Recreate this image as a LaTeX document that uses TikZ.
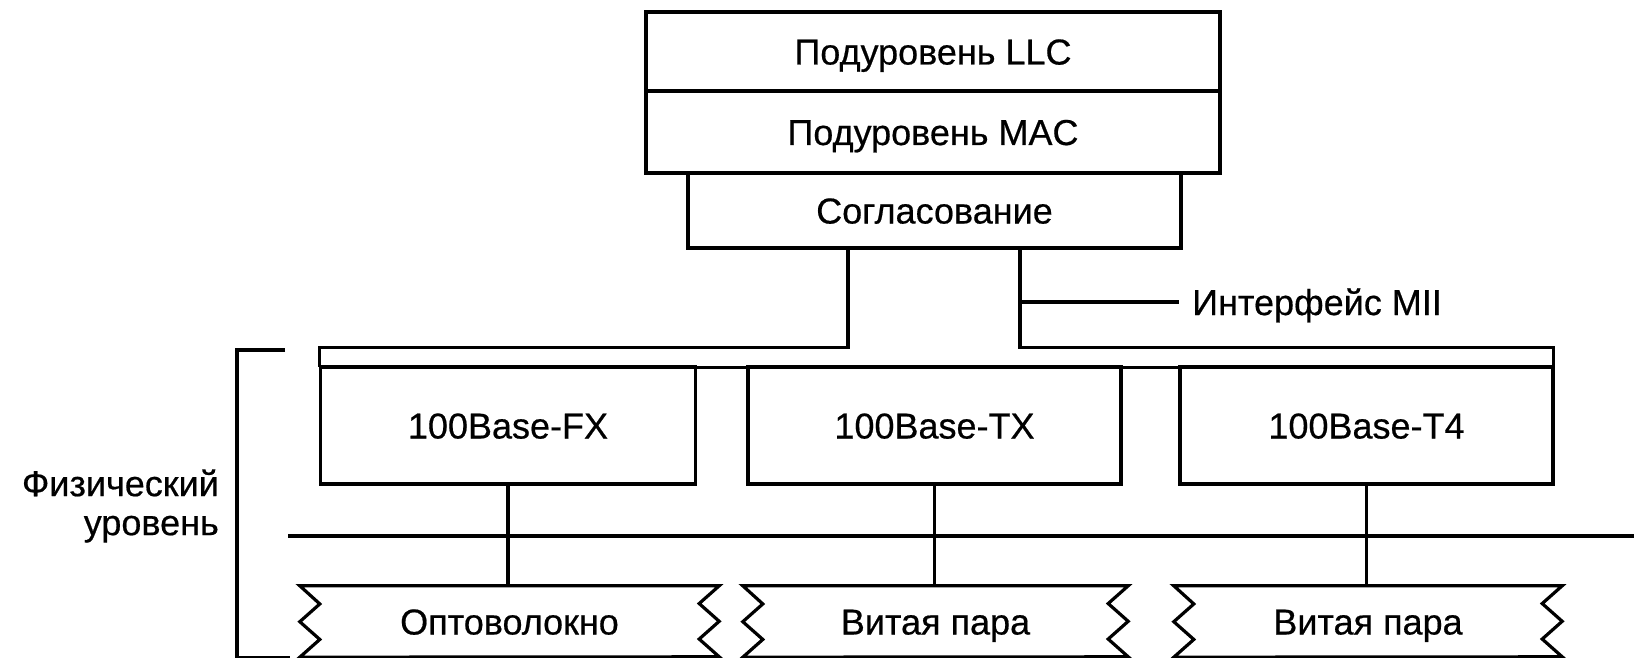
\documentclass[tikz,border=0pt]{standalone}
\usepackage{fontspec}
\setmainfont[FakeBold=0.5]{Liberation Sans}
\newcommand\lblfont{\fontsize{36}{39}\selectfont}
% zigzag outline of a cable segment around a named node
\newcommand\cableoutline[1]{%
  \draw[line] (#1.north west) -- (#1.north east)
    -- ++(-20,17.75) -- ++(20,17.75) -- ++(-20,17.75) -- ++(20,17.75)
    -- (#1.south west)
    -- ++(20,-17.75) -- ++(-20,-17.75) -- ++(20,-17.75) -- cycle;}
\begin{document}
\begin{tikzpicture}[x=1pt,y=-1pt,
  line/.style={line width=3.2pt, line join=miter},
  lbl/.style={inner sep=0pt, font=\lblfont, text height=26pt, text depth=0pt},
  box/.style={lbl, draw, line width=3.2pt, rectangle}]
\useasboundingbox (0,0) rectangle (1634,658);
\fill[white] (0,0) rectangle (1634,658);

% MAC/LLC stack
\node[box, minimum width=574pt, minimum height=79pt] (llc) at (933,51.5) {Подуровень LLC};
\node[box, minimum width=574pt, minimum height=82pt] (mac) at (933,132) {Подуровень MAC};
\node[box, minimum width=493pt, minimum height=75pt] (sogl) at (934.5,210.5) {Согласование};

% MII strip and PHY blocks
\node[minimum width=1233pt, minimum height=19pt, inner sep=0pt] (mii) at (936.5,357.5) {};
\node[box, minimum width=375pt, minimum height=117pt] (fx) at (508,425.5) {100Base-FX};
\node[box, minimum width=373pt, minimum height=117pt] (tx) at (934.5,425.5) {100Base-TX};
\node[box, minimum width=373pt, minimum height=117pt] (t4) at (1366.5,425.5) {100Base-T4};

\draw[line] ([xshift=-86.5pt]sogl.south) |- (mii.north west) -- (mii.south west);
\draw[line] ([xshift=85.5pt]sogl.south) |- (mii.north east) -- (mii.south east);
\draw[line] (mii.south west) -- (mii.south east);

\node[lbl, anchor=west] (miilbl) at (1192,302) {Интерфейс MII};
\draw[line] ([xshift=85.5pt]sogl.south |- miilbl.west) -- ([xshift=-13pt]miilbl.west);

% media
\node[lbl, minimum width=419pt, minimum height=71pt] (c1) at (509.5,621.5) {Оптоволокно};
\node[lbl, minimum width=385pt, minimum height=71pt] (c2) at (935.5,621.5) {Витая пара};
\node[lbl, minimum width=388pt, minimum height=71pt] (c3) at (1368,621.5) {Витая пара};
\cableoutline{c1}
\cableoutline{c2}
\cableoutline{c3}

\draw[line] (fx.south) -- (fx.south |- c1.north);
\draw[line] (tx.south) -- (tx.south |- c2.north);
\draw[line] (t4.south) -- (t4.south |- c3.north);

% medium-dependent interface line
\coordinate (busL) at (288,536);
\coordinate (busR) at (1634,536);
\draw[line] (busL) -- (busR);

% physical layer bracket
\coordinate (brT) at (285,350);
\coordinate (brC) at (237,658);
\coordinate (brB) at (290,658);
\draw[line] (brT) -| (brC) -- (brB);
\node[font=\lblfont, align=right, anchor=east, inner sep=0pt] (phy) at (219,506) {Физический\\уровень};
\end{tikzpicture}
\end{document}
